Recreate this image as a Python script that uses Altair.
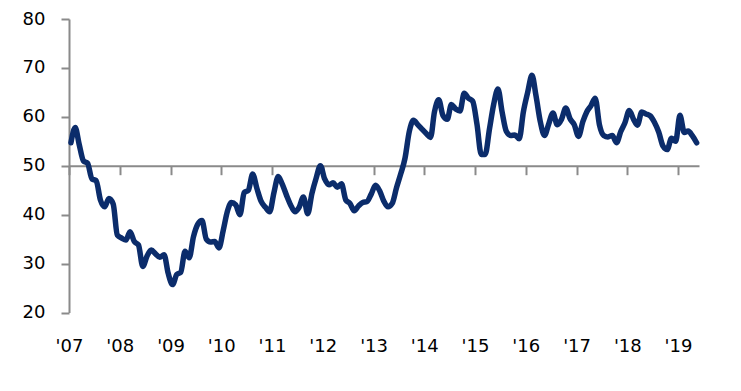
import altair as alt
import pandas as pd

# Monthly index values, Jan 2007 - May 2019
v2007 = [54.7, 57.8, 54.4, 51.0, 50.5, 47.3, 47.0, 43.0, 41.6, 43.3, 42.2, 35.8]
v2008 = [35.2, 34.8, 36.5, 34.5, 33.8, 29.4, 31.5, 32.8, 32.0, 31.3, 31.8, 28.0]
v2009 = [25.7, 27.8, 28.2, 32.5, 31.2, 35.5, 38.0, 38.8, 35.0, 34.4, 34.5, 33.2]
v2010 = [36.8, 40.8, 42.5, 42.0, 40.0, 44.5, 45.0, 48.3, 45.3, 42.7, 41.5, 40.6]
v2011 = [44.5, 47.8, 46.3, 44.0, 42.0, 40.6, 41.5, 43.6, 40.2, 44.3, 47.5, 50.0]
v2012 = [47.3, 46.1, 46.5, 45.6, 46.3, 43.0, 42.3, 40.8, 41.8, 42.5, 42.7, 44.2]
v2013 = [46.0, 44.8, 42.8, 41.6, 42.3, 45.5, 48.3, 51.5, 57.0, 59.3, 58.4, 57.5]
v2014 = [56.6, 55.8, 61.0, 63.5, 60.3, 59.5, 62.5, 61.6, 61.2, 64.8, 63.8, 63.2]
v2015 = [58.5, 52.3, 52.3, 57.5, 62.5, 65.7, 61.0, 57.0, 56.2, 56.3, 55.5, 61.0]
v2016 = [65.0, 68.5, 64.3, 59.0, 56.2, 58.6, 60.8, 58.4, 59.5, 61.8, 59.6, 58.4]
v2017 = [56.0, 59.0, 61.0, 62.3, 63.8, 58.3, 56.2, 55.9, 56.2, 54.7, 57.0, 58.8]
v2018 = [61.3, 59.5, 58.3, 61.0, 60.6, 60.2, 58.9, 56.9, 54.0, 53.3, 55.6, 55.0]
v2019 = [60.3, 56.8, 57.1, 56.1, 54.7]

values = v2007 + v2008 + v2009 + v2010 + v2011 + v2012 + v2013 + v2014 + v2015 + v2016 + v2017 + v2018 + v2019
months = pd.date_range("2007-01-01", periods=len(values), freq="MS") + pd.Timedelta(days=14)
years = list(range(2007, 2020))
y_ticks = [20, 30, 40, 50, 60, 70, 80]

df = pd.DataFrame({"month": [d.strftime("%Y-%m-%d") for d in months], "value": values})

axis_gray = "#8a8a8a"
font = "DejaVu Sans"

x_axis = alt.Axis(
    values=[alt.DateTime(year=y, month=1, date=1, utc=True) for y in years],
    format="'%y",
    offset=-146.8,
    tickSize=9,
    tickWidth=2,
    tickColor=axis_gray,
    domainColor=axis_gray,
    domainWidth=2,
    labelPadding=163,
    labelFlush=False,
    labelFont=font,
    labelFontSize=18,
    labelColor="#000000",
    grid=False,
    title=None,
)

y_axis = alt.Axis(
    values=y_ticks,
    tickSize=8,
    tickWidth=2,
    tickColor=axis_gray,
    domainColor=axis_gray,
    domainWidth=2,
    labelPadding=16,
    labelFont=font,
    labelFontSize=18,
    labelColor="#000000",
    grid=False,
    title=None,
)

chart = (
    alt.Chart(df)
    .mark_line(color="#0b2c6b", strokeWidth=5.5, interpolate="monotone",
               strokeCap="round", strokeJoin="round")
    .encode(
        x=alt.X("month:T",
                scale=alt.Scale(type="utc",
                                domain=[alt.DateTime(year=2007, month=1, date=1, utc=True),
                                        alt.DateTime(year=2019, month=6, date=1, utc=True)]),
                axis=x_axis),
        y=alt.Y("value:Q", scale=alt.Scale(domain=[20, 80], nice=False, zero=False), axis=y_axis),
    )
    .properties(
        width=630,
        height=293.5,
        autosize=alt.AutoSizeParams(type="none"),
        padding={"left": 61, "top": 11, "right": 30, "bottom": 50},
    )
    .configure_view(stroke=None)
)

chart.save("out.html", embed_options={"renderer": "svg", "actions": False})
